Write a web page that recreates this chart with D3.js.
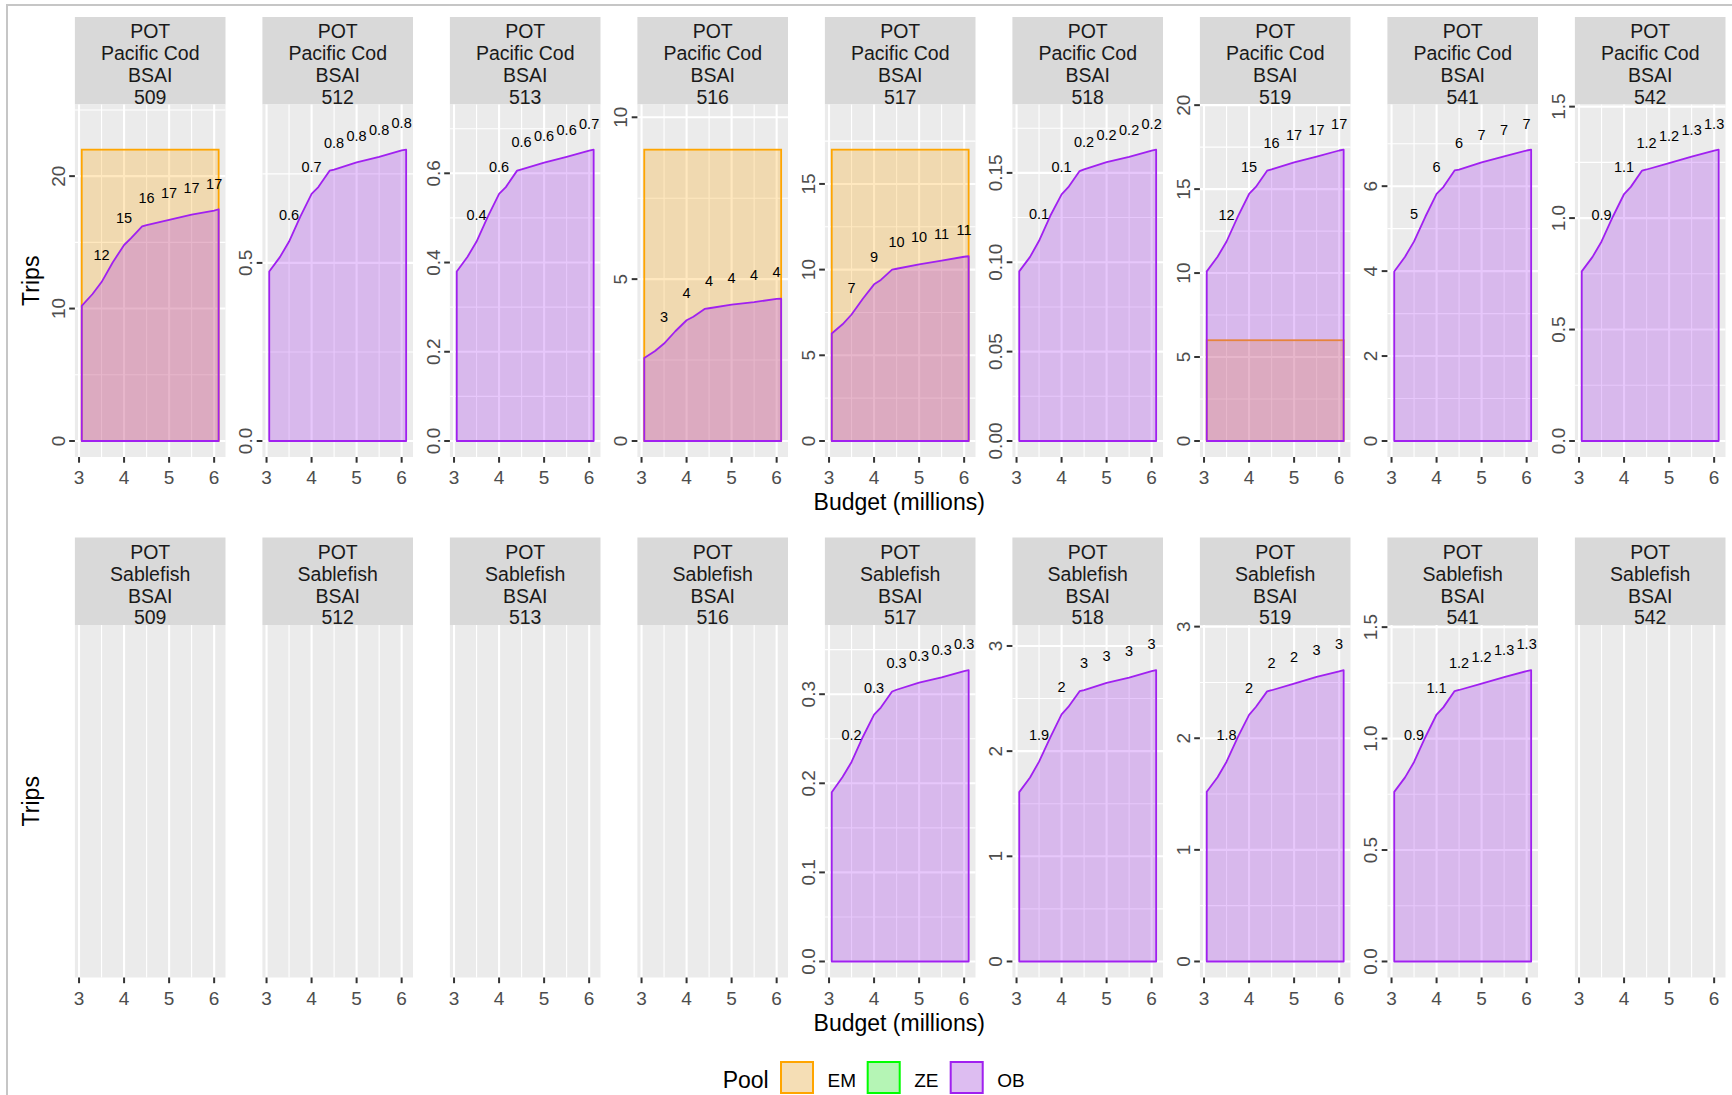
<!DOCTYPE html>
<html>
<head>
<meta charset="utf-8">
<script src="https://cdn.jsdelivr.net/npm/d3@7"></script>
<style>
  html, body { margin: 0; padding: 0; background: #ffffff; }
  svg { display: block; font-family: "Liberation Sans", Arial, sans-serif; }
</style>
</head>
<body>
<svg id="chart" width="1732" height="1095"></svg>
<script>
// ---- Data -------------------------------------------------------------
const gear = "POT";
const fmp = "BSAI";
const species = ["Pacific Cod", "Sablefish"];
const areas = ["509", "512", "513", "516", "517", "518", "519", "541", "542"];
const pools = ["EM", "ZE", "OB"];

// Budget (millions) at which trips were evaluated
const budget = [3.06, 3.3, 3.5, 3.75, 4.0, 4.15, 4.4, 4.5, 5.0, 5.5, 6.0, 6.1];
// Budgets whose trip counts are printed above the curve
const labeledBudgets = [3.5, 4.0, 4.5, 5.0, 5.5, 6.0];

// Observer (OB) trips by budget, Pacific Cod
const obCod509 = [10.2, 11.1, 12.0, 13.5, 14.8, 15.3, 16.2, 16.3, 16.7, 17.1, 17.4, 17.5];
const obCod512 = [0.476, 0.517, 0.560, 0.630, 0.694, 0.713, 0.759, 0.762, 0.782, 0.798, 0.816, 0.818];
const obCod513 = [0.380, 0.413, 0.447, 0.503, 0.554, 0.569, 0.606, 0.609, 0.624, 0.637, 0.651, 0.653];
const obCod516 = [2.56, 2.78, 3.01, 3.39, 3.73, 3.84, 4.08, 4.10, 4.21, 4.29, 4.39, 4.40];
const obCod517 = [6.27, 6.81, 7.38, 8.30, 9.14, 9.40, 10.00, 10.05, 10.31, 10.52, 10.75, 10.78];
const obCod518 = [0.0949, 0.103, 0.112, 0.126, 0.138, 0.142, 0.151, 0.152, 0.156, 0.159, 0.1625, 0.163];
const obCod519 = [10.1, 10.97, 11.88, 13.36, 14.71, 15.13, 16.1, 16.17, 16.59, 16.93, 17.3, 17.35];
const obCod541 = [3.99, 4.34, 4.70, 5.28, 5.82, 5.98, 6.37, 6.39, 6.56, 6.70, 6.84, 6.86];
const obCod542 = [0.761, 0.826, 0.895, 1.006, 1.108, 1.140, 1.213, 1.218, 1.247, 1.276, 1.303, 1.307];

// Observer (OB) trips by budget, Sablefish
const obSable517 = [0.190, 0.207, 0.224, 0.252, 0.277, 0.285, 0.303, 0.305, 0.313, 0.319, 0.326, 0.327];
const obSable518 = [1.61, 1.75, 1.90, 2.13, 2.35, 2.42, 2.57, 2.58, 2.65, 2.70, 2.76, 2.77];
const obSable519 = [1.52, 1.65, 1.79, 2.01, 2.21, 2.28, 2.42, 2.43, 2.49, 2.55, 2.60, 2.61];
const obSable541 = [0.761, 0.826, 0.895, 1.006, 1.108, 1.140, 1.213, 1.218, 1.247, 1.276, 1.303, 1.307];

// OB series per area (null = no trips in that stratum)
const obPacificCod = [obCod509, obCod512, obCod513, obCod516, obCod517, obCod518, obCod519, obCod541, obCod542];
const obSablefish = [null, null, null, null, obSable517, obSable518, obSable519, obSable541, null];

// Electronic monitoring (EM) trips, fixed across budgets
const emPacificCod = [22, null, null, 9, 17, null, 6, null, null];
const emSablefish = [null, null, null, null, null, null, null, null, null];

// ---- Styling / layout ---------------------------------------------------
const poolColor = { EM: "#FFA500", ZE: "#00FF00", OB: "#A020F0" };
const fillAlpha = 0.25;

const panelLeft0 = 74.9, panelPitch = 187.5, panelW = 150.6;
const rowTop = [17, 537.5];
const stripH = 87.5, panelH = 352.5;
const stripFont = 19.5, tickFont = 19, titleFont = 23, valueFont = 14.5;
const labelLift = 27;   // value labels sit this many px above the curve

const svg = d3.select("#chart");

// frame
svg.append("path")
  .attr("d", "M7,1095 L7,5 L1732,5")
  .attr("fill", "none").attr("stroke", "#c6c6c6").attr("stroke-width", 2);

const rows = [
  { species: species[0], ob: obPacificCod, em: emPacificCod },
  { species: species[1], ob: obSablefish, em: emSablefish }
];

const xLo = budget[0], xHi = budget[budget.length - 1];
const xPad = 0.05 * (xHi - xLo);
const x = d3.scaleLinear().domain([xLo - xPad, xHi + xPad]).range([0, panelW]);
const xMajor = [3, 4, 5, 6];
const xMinor = [3.5, 4.5, 5.5];

const fmtValue = v => v < 2 ? d3.format(".1f")(v) : d3.format(".0f")(v);
const headroom = 1.1;

rows.forEach((row, r) => {
  const top = rowTop[r];
  const pTop = top + stripH;
  const pBottom = pTop + panelH;

  areas.forEach((area, i) => {
    const left = panelLeft0 + i * panelPitch;
    const ob = row.ob[i];
    const em = row.em[i];

    // strip
    const strip = svg.append("g").attr("transform", `translate(${left},${top})`);
    strip.append("rect").attr("width", panelW).attr("height", stripH).attr("fill", "#D9D9D9");
    [gear, row.species, fmp, area].forEach((t, k) => {
      strip.append("text")
        .attr("x", panelW / 2).attr("y", 21.4 + k * 21.8)
        .attr("text-anchor", "middle")
        .attr("font-size", stripFont).attr("fill", "#1A1A1A")
        .text(t);
    });

    const g = svg.append("g").attr("transform", `translate(${left},${pTop})`);
    g.append("rect").attr("width", panelW).attr("height", panelH).attr("fill", "#EBEBEB");

    let y = null, yTicks = [], yMinor = [];
    if (ob) {
      const maxV = d3.max([d3.max(ob), em || 0]) * headroom;
      y = d3.scaleLinear().domain([-0.05 * maxV, 1.05 * maxV]).range([panelH, 0]);
      yTicks = y.ticks(3);
      const step = yTicks[1] - yTicks[0];
      for (let v = yTicks[0] - step / 2; v <= y.domain()[1]; v += step) {
        if (v >= y.domain()[0]) yMinor.push(v);
      }
    }

    // minor grid
    xMinor.forEach(v => g.append("line")
      .attr("x1", x(v)).attr("x2", x(v)).attr("y1", 0).attr("y2", panelH)
      .attr("stroke", "#ffffff").attr("stroke-width", 1.1));
    yMinor.forEach(v => g.append("line")
      .attr("x1", 0).attr("x2", panelW).attr("y1", y(v)).attr("y2", y(v))
      .attr("stroke", "#ffffff").attr("stroke-width", 1.1));
    // major grid
    xMajor.forEach(v => g.append("line")
      .attr("x1", x(v)).attr("x2", x(v)).attr("y1", 0).attr("y2", panelH)
      .attr("stroke", "#ffffff").attr("stroke-width", 2.1));
    yTicks.forEach(v => g.append("line")
      .attr("x1", 0).attr("x2", panelW).attr("y1", y(v)).attr("y2", y(v))
      .attr("stroke", "#ffffff").attr("stroke-width", 2.1));

    if (ob) {
      // EM trips (constant over budgets)
      if (em != null) {
        g.append("rect")
          .attr("x", x(xLo)).attr("y", y(em))
          .attr("width", x(xHi) - x(xLo)).attr("height", y(0) - y(em))
          .attr("fill", poolColor.EM).attr("fill-opacity", fillAlpha)
          .attr("stroke", poolColor.EM).attr("stroke-width", 1.8);
      }
      // OB trips area
      const pts = budget.map((b, k) => [b, ob[k]]);
      const areaGen = d3.area().x(d => x(d[0])).y0(y(0)).y1(d => y(d[1]));
      g.append("path").datum(pts)
        .attr("d", areaGen)
        .attr("fill", poolColor.OB).attr("fill-opacity", fillAlpha)
        .attr("stroke", poolColor.OB).attr("stroke-width", 1.8)
        .attr("stroke-linejoin", "round");
      // value labels
      pts.filter(d => labeledBudgets.includes(d[0])).forEach(d => {
        g.append("text")
          .attr("x", x(d[0])).attr("y", y(d[1]) - labelLift)
          .attr("dy", "0.35em")
          .attr("text-anchor", "middle")
          .attr("font-size", valueFont).attr("fill", "#000000")
          .text(fmtValue(d[1]));
      });

      // y axis
      const ya = svg.append("g").attr("transform", `translate(${left},${pTop})`);
      const fmt = y.tickFormat(3);
      yTicks.forEach(v => {
        ya.append("line")
          .attr("x1", -5.7).attr("x2", 0).attr("y1", y(v)).attr("y2", y(v))
          .attr("stroke", "#333333").attr("stroke-width", 2);
        ya.append("text")
          .attr("transform", `translate(-10,${y(v)}) rotate(-90)`)
          .attr("text-anchor", "middle")
          .attr("font-size", tickFont).attr("fill", "#4D4D4D")
          .text(fmt(v));
      });
    }

    // x axis
    const xa = svg.append("g").attr("transform", `translate(${left},${pBottom})`);
    xMajor.forEach(v => {
      xa.append("line")
        .attr("x1", x(v)).attr("x2", x(v)).attr("y1", 0).attr("y2", 5.7)
        .attr("stroke", "#333333").attr("stroke-width", 2);
      xa.append("text")
        .attr("x", x(v)).attr("y", 27)
        .attr("text-anchor", "middle")
        .attr("font-size", tickFont).attr("fill", "#4D4D4D")
        .text(d3.format("d")(v));
    });
  });

  // axis titles
  const spanLeft = panelLeft0, spanRight = panelLeft0 + (areas.length - 1) * panelPitch + panelW;
  svg.append("text")
    .attr("x", (spanLeft + spanRight) / 2 - 1).attr("y", pBottom + 53)
    .attr("text-anchor", "middle")
    .attr("font-size", titleFont).attr("fill", "#000000")
    .text("Budget (millions)");
  svg.append("text")
    .attr("transform", `translate(38.5,${(pTop + pBottom) / 2}) rotate(-90)`)
    .attr("text-anchor", "middle")
    .attr("font-size", titleFont).attr("fill", "#000000")
    .text("Trips");
});

// ---- Legend -------------------------------------------------------------
const legend = svg.append("g");
legend.append("text")
  .attr("x", 722.7).attr("y", 1087.5)
  .attr("font-size", titleFont).attr("fill", "#000000")
  .text("Pool");
const keyX = [780, 866.7, 949.7];
pools.forEach((p, k) => {
  legend.append("rect")
    .attr("x", keyX[k]).attr("y", 1061).attr("width", 34).attr("height", 33)
    .attr("fill", "#F2F2F2");
  legend.append("rect")
    .attr("x", keyX[k] + 1).attr("y", 1062).attr("width", 32).attr("height", 31)
    .attr("fill", poolColor[p]).attr("fill-opacity", fillAlpha)
    .attr("stroke", poolColor[p]).attr("stroke-width", 2);
  legend.append("text")
    .attr("x", keyX[k] + 47.5).attr("y", 1086.7)
    .attr("font-size", tickFont).attr("fill", "#000000")
    .text(p);
});
</script>
</body>
</html>
